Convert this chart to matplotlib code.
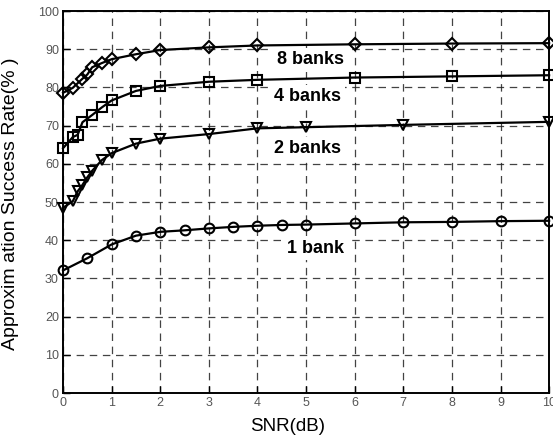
import matplotlib
matplotlib.use("Agg")
import matplotlib.pyplot as plt

# SNR (dB) sample points and success rates (%) per configuration
snr_8 = [0, 0.2, 0.4, 0.5, 0.6, 0.8, 1, 1.5, 2, 3, 4, 6, 8, 10]
rate_8 = [78.6, 79.9, 82.3, 83.4, 85.3, 86.4, 87.4, 88.7, 89.8, 90.5, 91.0, 91.3, 91.5, 91.6]

snr_4 = [0, 0.2, 0.3, 0.4, 0.6, 0.8, 1, 1.5, 2, 3, 4, 6, 8, 10]
rate_4 = [64.1, 67.0, 67.6, 70.9, 72.8, 74.8, 76.6, 79.1, 80.4, 81.5, 82.0, 82.6, 82.9, 83.2]

snr_2 = [0, 0.2, 0.3, 0.4, 0.5, 0.6, 0.8, 1, 1.5, 2, 3, 4, 5, 7, 10]
rate_2 = [48.5, 50.2, 52.8, 54.5, 56.5, 58.2, 61.0, 62.8, 65.3, 66.6, 67.8, 69.3, 69.6, 70.2, 71.0]

snr_1 = [0, 0.5, 1, 1.5, 2, 2.5, 3, 3.5, 4, 4.5, 5, 6, 7, 8, 9, 10]
rate_1 = [32.1, 35.3, 38.9, 41.2, 42.2, 42.6, 43.1, 43.5, 43.8, 44.0, 44.1, 44.4, 44.7, 44.8, 45.0, 45.1]

labels = ["8 banks", "4 banks", "2 banks", "1 bank"]
label_pos = [(4.4, 87.2), (4.35, 77.6), (4.35, 64.0), (4.6, 37.9)]

x_ticks = list(range(0, 11))
y_ticks = list(range(0, 101, 10))

plt.rcParams['font.family'] = ['Liberation Sans', 'DejaVu Sans']

fig = plt.figure(figsize=(5.53, 4.38), dpi=100)
ax = fig.add_axes([0.114, 0.1027, 0.879, 0.872])

series = [(snr_8, rate_8, "D", 6), (snr_4, rate_4, "s", 7),
          (snr_2, rate_2, "v", 7.5), (snr_1, rate_1, "o", 7)]
for xs, ys, mk, ms in series:
    ax.plot(xs, ys, color="black", linewidth=1.6, marker=mk, markersize=ms,
            markerfacecolor="none", markeredgecolor="black", markeredgewidth=1.5,
            clip_on=False, zorder=3)

# labels sit on white boxes that hide the grid behind them
for txt, (tx, ty) in zip(labels, label_pos):
    ax.text(tx, ty, txt, fontsize=13, fontweight="bold", va="center", ha="left", zorder=2.5,
            bbox=dict(facecolor="white", edgecolor="none", pad=2.5))

ax.set_xlim(0, 10)
ax.set_ylim(0, 100)
ax.set_xticks(x_ticks)
ax.set_yticks(y_ticks)
ax.tick_params(direction="in", length=5, width=1, labelsize=9, labelcolor="#555555",
               top=False, right=False, pad=3)
ax.grid(True, color="#222222", linestyle=(0, (6, 4.5)), linewidth=0.9, alpha=0.85)
for sp in ax.spines.values():
    sp.set_linewidth(1.4)

ax.set_xlabel("SNR(dB)", fontsize=13.5)
ax.xaxis.set_label_coords(0.461, -0.065)
ax.set_ylabel("Approxim ation Success Rate(% )", fontsize=14)
ax.yaxis.set_label_coords(-0.09, 0.495)

fig.savefig("out.png", dpi=100)
